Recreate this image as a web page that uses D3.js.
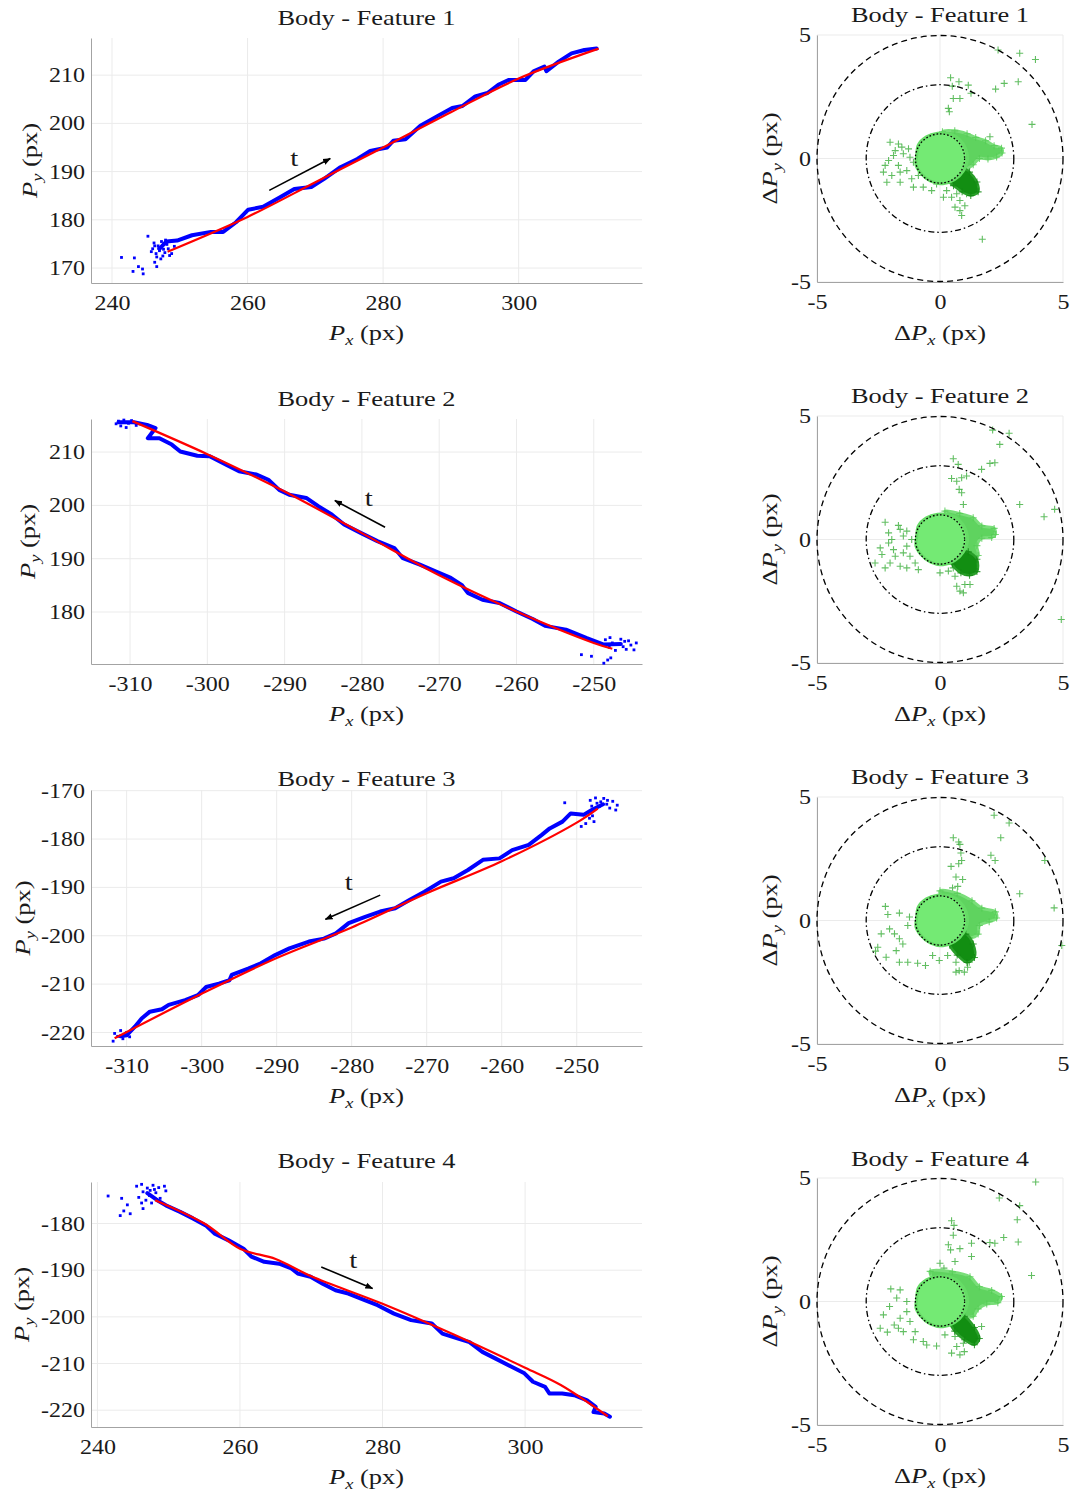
<!DOCTYPE html>
<html>
<head>
<meta charset="utf-8">
<script src="https://cdn.jsdelivr.net/npm/d3@7"></script>
<style>
  body { margin: 0; background: #fff; }
</style>
</head>
<body>
<svg id="fig" width="1073" height="1494"></svg>
<script>
// ---------- data ----------
var titles = ["Body - Feature 1", "Body - Feature 2", "Body - Feature 3", "Body - Feature 4"];

// axis limits and ticks of the trajectory plots
var xLims = [[236.9, 318.2], [-315.05, -243.76], [-314.75, -241.3], [239.1, 316.4]];
var yLims = [[166.9, 217.7], [170.25, 216.2], [-222.8, -169.86], [-223.6, -171.1]];
var xTicks = [[240, 260, 280, 300], [-310, -300, -290, -280, -270, -260, -250],
              [-310, -300, -290, -280, -270, -260, -250], [240, 260, 280, 300]];
var yTicks = [[170, 180, 190, 200, 210], [180, 190, 200, 210],
              [-220, -210, -200, -190, -180, -170], [-220, -210, -200, -190, -180]];

// measured track (blue)
var traj1 = [[247.0,174.0],[248.0,175.5],[249.6,175.7],[251.8,176.8],[254.6,177.5],[256.4,177.5],[258.3,179.5],[260.1,182.1],[262.3,182.7],[264.8,184.7],[266.9,186.4],[269.4,186.8],[271.3,188.5],[273.7,190.9],[276.2,192.6],[278.1,194.3],[280.6,195.0],[281.5,196.4],[283.3,196.7],[285.5,199.5],[288.0,201.5],[290.2,203.2],[291.7,203.6],[293.6,205.6],[295.4,206.3],[297.0,208.0],[298.5,209.0],[301.0,209.0],[302.2,210.8],[303.8,211.8],[304.1,210.8],[305.9,212.8],[307.8,214.5],[309.7,215.2],[311.5,215.5]];
var traj2 = [[-311.5,215.6],[-309.5,215.6],[-307.8,215.1],[-306.7,214.5],[-307.7,212.6],[-306.2,212.6],[-304.6,211.4],[-303.5,210.1],[-301.3,209.3],[-299.7,209.2],[-297.5,207.6],[-295.9,206.4],[-293.7,205.8],[-292.1,204.8],[-290.7,202.9],[-289.4,202.0],[-287.2,201.4],[-285.6,199.8],[-283.9,198.3],[-282.3,196.4],[-280.1,194.8],[-278.0,193.3],[-275.8,192.0],[-274.7,190.1],[-272.5,188.9],[-270.4,187.6],[-268.5,186.4],[-267.1,185.1],[-266.3,183.6],[-264.4,182.3],[-262.2,181.7],[-260.0,180.1],[-257.9,178.7],[-256.3,177.4],[-253.6,176.7],[-250.9,175.1],[-248.7,173.9],[-246.5,174.0]];
var traj3 = [[-310.8,-220.8],[-310.0,-220.6],[-308.9,-218.8],[-308.0,-217.1],[-306.9,-215.7],[-305.3,-215.2],[-304.4,-214.3],[-302.2,-213.3],[-300.5,-212.3],[-299.4,-210.6],[-297.7,-209.9],[-296.3,-209.2],[-296.0,-208.1],[-293.8,-206.8],[-292.1,-205.7],[-290.2,-204.0],[-288.3,-202.6],[-285.7,-201.2],[-283.7,-200.6],[-282.1,-199.5],[-280.4,-197.4],[-278.2,-196.1],[-276.2,-195.0],[-274.2,-194.3],[-272.3,-192.6],[-270.3,-190.9],[-268.1,-188.8],[-266.4,-188.1],[-264.5,-186.4],[-262.5,-184.3],[-260.3,-184.0],[-258.6,-182.3],[-256.4,-181.2],[-254.7,-179.2],[-253.6,-177.8],[-251.9,-176.4],[-250.8,-174.7],[-249.1,-175.0],[-248.0,-174.0],[-246.5,-172.8]];
var traj4 = [[247.0,-173.5],[248.4,-175.0],[249.6,-176.1],[251.6,-177.5],[253.4,-178.9],[255.2,-180.4],[256.4,-182.1],[258.4,-183.6],[260.5,-185.4],[261.6,-187.1],[263.4,-188.2],[265.5,-188.6],[267.2,-189.6],[268.1,-190.7],[269.9,-191.4],[271.6,-192.9],[273.4,-194.3],[275.2,-195.0],[277.5,-196.4],[279.3,-197.5],[281.6,-199.3],[284.0,-200.7],[286.9,-201.4],[288.4,-203.6],[290.5,-204.6],[292.2,-205.4],[294.0,-207.5],[295.8,-208.9],[298.1,-210.7],[299.9,-212.1],[301.1,-213.9],[302.8,-215.0],[303.4,-216.4],[305.2,-216.4],[306.9,-216.8],[308.7,-217.9],[309.9,-219.3],[309.6,-220.4],[311.1,-220.7],[311.9,-221.4]];

// loose blue points (start/end clusters and strays)
var dots1 = [[246.2,175.2],[246.8,174.6],[247.3,175.5],[247.0,173.6],[246.5,173.0],[247.8,173.2],[248.3,174.0],[247.5,172.5],[246.0,174.0],[248.8,173.0],[249.2,174.5],[247.9,175.8],[246.6,172.3],[245.8,173.4],[248.5,172.6],[247.2,171.9],[246.9,174.1],[247.6,173.9],[246.3,174.6],[248.1,174.9],
             [241.4,172.2],[243.3,172.1],[243.1,169.3],[244.6,168.8],[245.3,176.6],[246.6,170.3],[243.9,170.3],[244.5,169.8],[246.3,171.2]];
var dots2 = [[-311.5,215.8],[-310.8,216.0],[-310.2,215.4],[-311.2,214.9],[-310.5,214.6],[-309.8,215.9],[-311.8,215.3],[-309.2,215.0],
             [-248.5,174.8],[-247.6,174.2],[-246.8,173.9],[-246.0,174.5],[-245.2,173.8],[-244.5,174.2],[-245.8,173.0],[-247.2,172.8],[-248.0,173.4],[-244.8,172.9],[-246.5,174.9],[-247.9,175.2],[-246.2,173.5],[-245.5,174.6],
             [-251.6,172.0],[-250.3,171.7],[-248.7,170.4],[-247.8,171.4],[-248.2,171.0]];
var dots3 = [[-311.8,-221.8],[-311.2,-220.8],[-310.5,-221.3],[-311.6,-220.2],[-310.0,-220.0],[-309.6,-220.9],[-310.8,-219.6],
             [-248.2,-172.0],[-247.5,-171.5],[-246.8,-172.3],[-246.0,-172.8],[-245.2,-172.2],[-244.6,-173.0],[-245.6,-173.6],[-247.0,-173.3],[-248.0,-173.2],[-246.4,-171.6],[-244.8,-174.0],[-247.3,-172.6],[-245.9,-172.0],
             [-251.6,-172.5],[-249.4,-177.4],[-247.7,-176.4],[-248.3,-175.7],[-248.8,-176.8],[-247.9,-175.2]];
var dots4 = [[245.5,-172.0],[246.2,-171.6],[247.0,-172.4],[247.8,-171.8],[248.6,-172.3],[249.4,-172.0],[249.6,-173.0],[248.2,-173.4],[247.3,-174.0],[246.4,-173.2],[245.8,-174.4],[246.8,-175.0],[247.6,-175.6],[248.8,-174.6],[246.2,-175.6],[247.4,-172.9],[248.0,-172.7],
             [241.5,-174.1],[243.4,-174.6],[243.2,-178.3],[243.7,-177.3],[244.6,-177.9],[246.4,-176.8],[244.2,-176.0]];

// fitted path (red)
var fit1 = [[248.2,173.4],[260,180.6],[270,187.8],[280,195.0],[290,202.3],[300,209.3],[311.8,215.5]];
var fit2 = [[-309.7,215.8],[-300,209.6],[-290,202.6],[-280,194.8],[-270,186.9],[-260,180.1],[-250,174.2],[-247.6,173.1]];
var fit3 = [[-311.6,-221.2],[-300,-212.0],[-290,-204.6],[-280,-198.3],[-270,-191.2],[-260,-184.6],[-250,-176.6],[-247.2,-173.7]];
var fit4 = [[248.1,-175.0],[255,-180.0],[260,-185.4],[265,-187.6],[270,-191.3],[280,-197.2],[290,-203.8],[300,-210.9],[305,-214.6],[311.6,-221.3]];

// time arrows: tail, head, and position of the "t"
var arrows = [[[263.2,186.1],[272.2,192.7]], [[-277.0,195.9],[-283.5,200.9]],
              [[-276.2,-191.6],[-283.5,-196.6]], [[271.4,-189.3],[278.6,-193.9]]];
var tMarks = [[266.9,192.8], [-279.1,201.4], [-280.4,-188.8], [275.9,-187.9]];

// error plots
var errTicks = [-5, 0, 5];
var ringRadii = [5, 3, 1];
var core = [[-0.95,0.1],[-0.88,0.55],[-0.55,0.88],[-0.1,1.02],[0.35,1.0],[0.78,0.78],[1.05,0.38],[1.12,-0.05],[0.95,-0.5],[0.6,-0.85],[0.12,-1.02],[-0.38,-0.92],[-0.78,-0.6],[-0.98,-0.25]];
var shell1 = [[0.1,1.08],[0.6,1.12],[1.1,1.0],[1.45,0.85],[1.85,0.72],[2.2,0.52],[2.5,0.42],[2.52,0.22],[2.3,0.06],[1.95,-0.02],[1.6,0.0],[1.35,-0.25],[1.05,-0.45],[0.7,-0.55],[0.4,-0.3],[0.3,0.4]];
var shell2 = [[0.2,1.15],[0.8,1.05],[1.35,0.88],[1.7,0.55],[2.2,0.45],[2.25,0.2],[2.1,0.08],[1.7,0.05],[1.5,-0.25],[1.55,-0.65],[1.2,-0.75],[0.7,-0.6],[0.4,0.0],[0.4,0.8]];
var shell3 = [[0.0,1.2],[0.7,1.1],[1.3,0.8],[1.7,0.5],[2.25,0.35],[2.3,0.1],[2.0,-0.05],[1.6,-0.2],[1.55,-0.55],[1.2,-0.7],[0.7,-0.5],[0.4,0.3]];
var shell4 = [[-0.4,1.22],[0.5,1.2],[1.22,1.0],[1.6,0.6],[2.1,0.45],[2.5,0.2],[2.35,-0.05],[1.9,-0.1],[1.55,-0.3],[1.35,-0.6],[0.9,-0.55],[0.3,0.2],[-0.3,0.9]];
var tail1 = [[0.4,-0.5],[0.85,-0.35],[1.2,-0.55],[1.5,-0.95],[1.55,-1.35],[1.25,-1.5],[0.9,-1.35],[0.55,-1.1],[0.3,-0.85]];
var tail2 = [[0.6,-0.45],[1.15,-0.5],[1.5,-0.8],[1.5,-1.3],[1.2,-1.45],[0.85,-1.35],[0.5,-1.0]];
var tail3 = [[0.45,-0.55],[1.05,-0.55],[1.35,-0.95],[1.4,-1.5],[1.1,-1.7],[0.7,-1.4],[0.4,-1.0]];
var tail4 = [[0.5,-0.55],[1.0,-0.6],[1.4,-1.05],[1.6,-1.5],[1.4,-1.75],[1.0,-1.55],[0.6,-1.2],[0.4,-0.85]];
var cross1 = [[0.43,3.27],[0.77,3.11],[0.5,2.93],[1.15,2.97],[2.26,2.81],[2.61,3.04],[3.18,3.11],[3.24,4.26],[3.88,4.01],[3.74,1.38],[2.36,4.39],[1.26,2.64],[0.81,2.43],[0.54,2.43],[0.34,2.03],[0.38,1.89],[2.03,0.88],[1.72,-3.27],
              [-2.03,0.66],[-1.69,0.59],[-1.55,0.46],[-1.28,0.39],[-1.89,0.12],[-2.09,-0.08],[-2.23,-0.28],[-1.69,-0.28],[-2.3,-0.55],[-1.62,-0.55],[-1.96,-0.69],[-2.16,-0.96],[-1.62,-0.96],[-1.08,-1.16],[-1.15,-0.82],[-1.35,-0.49],[-1.08,-0.15],[-1.22,0.05],[-1.49,0.19],[-1.82,0.32],[-0.88,-0.69],[-0.68,-1.16],[-0.34,-1.3],[-0.14,-1.03],[-0.81,-0.35],
              [0.27,-1.3],[0.47,-1.57],[0.68,-1.43],[0.81,-1.7],[0.61,-1.97],[0.81,-2.11],[1.01,-1.91],[0.88,-2.31],[1.08,-1.43],[0.14,-1.57]];
var cross2 = [[0.54,3.27],[0.74,3.04],[0.47,2.47],[0.68,2.36],[0.88,2.5],[1.08,2.57],[0.78,2.03],[0.88,1.89],[0.95,1.42],[1.69,2.84],[2.03,3.08],[2.23,3.11],[2.43,3.85],[2.14,4.43],[2.81,4.3],[3.24,1.42],[4.23,0.92],[4.66,1.22],[4.93,-3.24],
              [-2.23,0.7],[-2.09,0.27],[-1.69,0.57],[-1.62,0.41],[-2.43,-0.34],[-2.36,-0.61],[-2.64,-0.95],[-2.23,-1.15],[-2.03,-0.95],[-1.82,-0.68],[-1.49,-0.54],[-1.35,-0.27],[-1.15,0.0],[-1.62,-1.08],[-1.35,-1.15],[-1.01,-0.95],[-1.22,-0.68],[-0.88,-1.22],[-2.09,-0.14],[-1.89,-0.41],[-1.49,0.14],[-1.35,0.34],[-1.96,0.0],
              [0.0,-1.35],[0.34,-1.28],[0.61,-1.49],[0.68,-1.89],[0.81,-2.09],[1.01,-1.82],[1.22,-1.82],[0.95,-2.16],[0.54,-1.15]];
var cross3 = [[0.54,3.35],[0.76,3.18],[0.81,3.08],[0.45,2.19],[0.76,2.3],[0.88,2.43],[0.85,2.73],[0.65,1.76],[0.92,1.66],[0.72,1.38],[0.51,1.32],[2.07,2.64],[2.24,2.43],[2.47,3.35],[2.2,4.26],[2.81,3.95],[3.24,1.08],[4.26,2.43],[4.64,0.51],[4.95,-1.01],
              [-1.65,-1.69],[-1.31,-1.69],[-0.91,-1.73],[-0.59,-1.82],[-0.3,-1.42],[-0.03,-1.62],[-2.53,-1.08],[-2.62,-1.24],[-2.22,0.57],[-2.12,0.24],[-2.39,-0.54],[-2.05,-0.34],[-1.85,-0.54],[-1.65,-0.74],[-1.51,-0.95],[-1.31,-0.2],[-1.24,0.14],[-1.65,0.3],[-1.78,-1.22],[-2.19,-1.49],
              [0.65,-1.69],[0.78,-2.03],[0.99,-2.09],[1.19,-1.69],[1.12,-1.89],[0.65,-2.09],[0.31,-1.42]];
var cross4 = [[0.47,3.27],[0.57,3.08],[0.54,2.68],[0.34,2.3],[0.43,2.09],[0.81,2.14],[0.61,1.62],[0.0,1.55],[0.16,1.35],[1.28,2.36],[1.28,1.82],[2.03,2.39],[2.23,2.36],[2.59,2.59],[2.41,4.19],[3.14,3.31],[3.24,3.88],[3.18,2.41],[3.72,1.05],[3.89,4.84],
              [-2.0,0.51],[-1.62,0.47],[-2.05,-0.2],[-2.3,-0.54],[-2.43,-1.08],[-2.14,-1.24],[-1.86,-0.95],[-1.62,-0.68],[-1.35,-0.41],[-1.22,-0.81],[-1.01,-1.22],[-1.49,-1.22],[-1.76,0.14],[-1.35,0.0],[-1.08,-1.55],[-0.68,-1.62],[-0.54,-1.76],[-0.14,-1.8],[-1.69,-1.08],
              [0.2,-1.35],[0.61,-1.42],[0.68,-1.82],[0.81,-2.16],[0.99,-2.03],[0.47,-2.09],[0.95,-1.69],[1.69,-1.01]];

var trajs = [traj1, traj2, traj3, traj4];
var dots = [dots1, dots2, dots3, dots4];
var fits = [fit1, fit2, fit3, fit4];
var shells = [shell1, shell2, shell3, shell4];
var tails = [tail1, tail2, tail3, tail4];
var crosses = [cross1, cross2, cross3, cross4];

// ---------- layout ----------
var leftBox = {x0: 91, x1: 642, tops: [38, 419, 790, 1182], bottoms: [283, 664, 1046, 1427],
               titleY: [25, 406, 786, 1168], ylabX: [37, 35, 30, 29]};
var rightBox = {x0: 817, x1: 1063, tops: [35, 416, 797, 1178], bottoms: [282, 663, 1044, 1425],
                titleY: [22, 403, 784, 1166], ylabX: 777};

var FONT = "'Liberation Serif', 'Times New Roman', serif";
var SX = 1.2;          // CM-like wide lettering
var GRID = "#ebebeb", AXIS = "#a3a3a3";

var svg = d3.select("#fig");
svg.append("defs").append("marker")
    .attr("id", "head")
    .attr("viewBox", "0 0 10 10")
    .attr("refX", 9).attr("refY", 5)
    .attr("markerWidth", 8).attr("markerHeight", 8)
    .attr("markerUnits", "userSpaceOnUse")
    .attr("orient", "auto")
    .append("path").attr("d", "M0,1L10,5L0,9z").attr("fill", "#000");

function mathText(parent, x, y, parts, size, rot) {
    var g = parent.append("g")
        .attr("transform", "translate(" + x + "," + y + ")" + (rot ? " rotate(" + rot + ")" : "") + " scale(" + SX + ",1)");
    var t = g.append("text")
        .attr("text-anchor", "middle")
        .style("font-family", FONT)
        .style("font-size", size + "px")
        .attr("fill", "#1a1a1a");
    var low = false;
    parts.forEach(function (p) {
        var s = t.append("tspan").text(p.t);
        if (p.i) s.style("font-style", "italic");
        if (p.sub) {
            s.style("font-size", (size * 0.7) + "px").attr("dy", size * 0.22);
            low = true;
        } else if (low) {
            s.attr("dy", -size * 0.22);
            low = false;
        }
    });
    return t;
}

function styleAxis(sel, side) {
    sel.select(".domain").attr("stroke", AXIS).attr("stroke-width", 1);
    sel.selectAll(".tick line").remove();
    var t = sel.selectAll("text")
        .style("font-family", FONT)
        .style("font-size", "20px")
        .attr("fill", "#1a1a1a")
        .attr("transform", "scale(" + SX + ",1)");
    if (side === "bottom") t.attr("y", 27).attr("dy", null);
    else t.attr("x", -5).attr("dy", "0.33em");
}

function fmt(d) { return String(d); }

// ---------- trajectory plots ----------
function leftPanel(i) {
    var top = leftBox.tops[i], bottom = leftBox.bottoms[i];
    var x = d3.scaleLinear().domain(xLims[i]).range([leftBox.x0, leftBox.x1]);
    var y = d3.scaleLinear().domain(yLims[i]).range([bottom, top]);
    var g = svg.append("g");

    g.selectAll(".gx").data(xTicks[i]).enter().append("line")
        .attr("x1", function (d) { return x(d); }).attr("x2", function (d) { return x(d); })
        .attr("y1", top).attr("y2", bottom).attr("stroke", GRID);
    g.selectAll(".gy").data(yTicks[i]).enter().append("line")
        .attr("y1", function (d) { return y(d); }).attr("y2", function (d) { return y(d); })
        .attr("x1", leftBox.x0).attr("x2", leftBox.x1).attr("stroke", GRID);

    g.append("g").attr("transform", "translate(0," + bottom + ")")
        .call(d3.axisBottom(x).tickValues(xTicks[i]).tickFormat(fmt).tickSizeOuter(0))
        .call(styleAxis, "bottom");
    g.append("g").attr("transform", "translate(" + leftBox.x0 + ",0)")
        .call(d3.axisLeft(y).tickValues(yTicks[i]).tickFormat(fmt).tickSizeOuter(0))
        .call(styleAxis, "left");

    var line = d3.line().x(function (d) { return x(d[0]); }).y(function (d) { return y(d[1]); });

    g.selectAll(".dot").data(dots[i]).enter().append("rect")
        .attr("x", function (d) { return x(d[0]) - 1.4; })
        .attr("y", function (d) { return y(d[1]) - 1.4; })
        .attr("width", 2.8).attr("height", 2.8)
        .attr("fill", "#0000ff");

    g.append("path").datum(trajs[i])
        .attr("d", line)
        .attr("fill", "none").attr("stroke", "#0000ff")
        .attr("stroke-width", 4).attr("stroke-linejoin", "round").attr("stroke-linecap", "round");

    g.append("path").datum(fits[i])
        .attr("d", line.curve(d3.curveCatmullRom))
        .attr("fill", "none").attr("stroke", "#ff0000").attr("stroke-width", 2.2);

    var a = arrows[i];
    g.append("line")
        .attr("x1", x(a[0][0])).attr("y1", y(a[0][1]))
        .attr("x2", x(a[1][0])).attr("y2", y(a[1][1]))
        .attr("stroke", "#000").attr("stroke-width", 1.6)
        .attr("marker-end", "url(#head)");
    mathText(g, x(tMarks[i][0]), y(tMarks[i][1]) + 8, [{t: "t"}], 24);

    mathText(g, (leftBox.x0 + leftBox.x1) / 2, leftBox.titleY[i], [{t: titles[i]}], 22);
    mathText(g, (leftBox.x0 + leftBox.x1) / 2, bottom + 57,
        [{t: "P", i: true}, {t: "x", i: true, sub: true}, {t: " (px)"}], 22);
    mathText(g, leftBox.ylabX[i], (top + bottom) / 2,
        [{t: "P", i: true}, {t: "y", i: true, sub: true}, {t: " (px)"}], 22, -90);
}

// ---------- error plots ----------
function rightPanel(i) {
    var top = rightBox.tops[i], bottom = rightBox.bottoms[i];
    var x = d3.scaleLinear().domain([-5, 5]).range([rightBox.x0, rightBox.x1]);
    var y = d3.scaleLinear().domain([-5, 5]).range([bottom, top]);
    var g = svg.append("g");

    g.selectAll(".gx").data(errTicks).enter().append("line")
        .attr("x1", function (d) { return x(d); }).attr("x2", function (d) { return x(d); })
        .attr("y1", top).attr("y2", bottom).attr("stroke", GRID);
    g.selectAll(".gy").data(errTicks).enter().append("line")
        .attr("y1", function (d) { return y(d); }).attr("y2", function (d) { return y(d); })
        .attr("x1", rightBox.x0).attr("x2", rightBox.x1).attr("stroke", GRID);

    g.append("g").attr("transform", "translate(0," + bottom + ")")
        .call(d3.axisBottom(x).tickValues(errTicks).tickFormat(fmt).tickSizeOuter(0))
        .call(styleAxis, "bottom");
    g.append("g").attr("transform", "translate(" + rightBox.x0 + ",0)")
        .call(d3.axisLeft(y).tickValues(errTicks).tickFormat(fmt).tickSizeOuter(0))
        .call(styleAxis, "left");

    var blob = d3.line().x(function (d) { return x(d[0]); }).y(function (d) { return y(d[1]); })
        .curve(d3.curveCatmullRomClosed);

    function plus(data, colour, opacity) {
        g.append("g").selectAll("path").data(data).enter().append("path")
            .attr("transform", function (d) { return "translate(" + x(d[0]) + "," + y(d[1]) + ")"; })
            .attr("d", "M-3.5,0H3.5M0,-3.5V3.5")
            .attr("stroke", colour).attr("stroke-opacity", opacity).attr("stroke-width", 1.1);
    }

    plus(crosses[i], "#2ea82e", 0.75);

    g.append("path").datum(shells[i]).attr("d", blob)
        .attr("fill", "#5fd35f").attr("stroke", "#7ade7a").attr("stroke-width", 3);
    plus(shells[i], "#55cc55", 0.8);
    g.append("path").datum(tails[i]).attr("d", blob)
        .attr("fill", "#128e12").attr("stroke", "#2a9f2a").attr("stroke-width", 2.5);
    plus(tails[i], "#118811", 0.8);
    g.append("path").datum(core).attr("d", blob)
        .attr("fill", "#74ea74").attr("stroke", "#66dc66").attr("stroke-width", 3);

    var dashes = ["6,4", "6,3,1.5,3", "1.6,2"];
    g.selectAll(".ring").data(ringRadii).enter().append("circle")
        .attr("cx", x(0)).attr("cy", y(0))
        .attr("r", function (d) { return x(d) - x(0); })
        .attr("fill", "none").attr("stroke", "#000").attr("stroke-width", 1.3)
        .attr("stroke-dasharray", function (d, k) { return dashes[k]; });

    mathText(g, (rightBox.x0 + rightBox.x1) / 2, rightBox.titleY[i], [{t: titles[i]}], 22);
    mathText(g, (rightBox.x0 + rightBox.x1) / 2, bottom + 58,
        [{t: "\u0394"}, {t: "P", i: true}, {t: "x", i: true, sub: true}, {t: " (px)"}], 22);
    mathText(g, rightBox.ylabX, (top + bottom) / 2,
        [{t: "\u0394"}, {t: "P", i: true}, {t: "y", i: true, sub: true}, {t: " (px)"}], 22, -90);
}

for (var i = 0; i < 4; i++) {
    leftPanel(i);
    rightPanel(i);
}
</script>
</body>
</html>
